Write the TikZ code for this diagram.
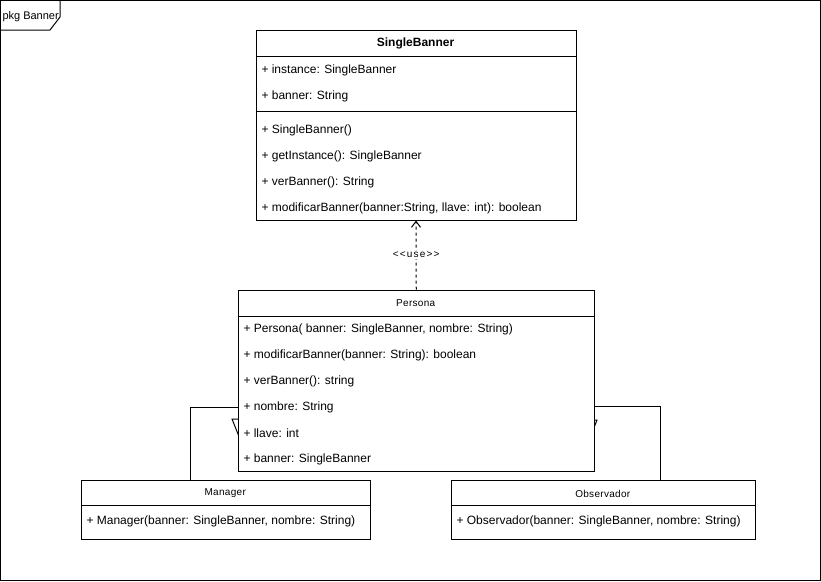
\documentclass[tikz,border=0pt]{standalone}
\usepackage{fontspec}
\setmainfont{Liberation Sans}
\newfontfamily\hdfont[LetterSpace=3]{Liberation Sans}
\newfontfamily\stfont[LetterSpace=12]{Liberation Sans}
\usetikzlibrary{arrows.meta,calc}
\begin{document}
\begin{tikzpicture}[x=1pt,y=-1pt,line width=1pt,
  classbox/.style={draw=black,fill=white,anchor=north west,inner sep=0pt},
  row/.style={anchor=west,inner sep=0pt,font=\fontsize{12}{14}\selectfont},
  hd/.style={inner sep=0pt,font=\hdfont\fontsize{10}{12}\selectfont},
  bhd/.style={inner sep=0pt,font=\bfseries\fontsize{12}{14}\selectfont},
  stereo/.style={fill=white,inner sep=1pt,font=\stfont\fontsize{10}{12}\selectfont},
  dep/.style={dashed,dash pattern=on 3pt off 3pt,-{Straight Barb[length=6pt,width=9pt]}}]
\useasboundingbox (0,0) rectangle (821,581);
% package frame
\draw (0.5,0.5) rectangle (820.5,580.5);
\draw (0.5,30) -- (50,30) -- (60,17) -- (60,0.5);
\node[anchor=west,inner sep=0pt,font=\fontsize{11}{13}\selectfont] (pkg) at (2,16.5) {pkg Banner};

% generalization edges (drawn first; Persona box covers their ends)
\coordinate (lt) at (232,419);
\coordinate (rt) at (597,420);
\draw (190,479.5) -- (190,407) -- (260,407);
\draw (lt) -- ++(16,0) -- ++(-8,20) -- cycle;
\draw (660,479.5) -- (660,406) -- (580,406);
\draw (rt) -- ++(-16,0) -- ++(8,20) -- cycle;

% SingleBanner
\node[classbox,minimum width=320pt,minimum height=190pt] (sb) at (255.5,29.5) {};
\draw ([yshift=-27pt]sb.north west) -- ([yshift=-27pt]sb.north east);
\draw ([yshift=-82pt]sb.north west) -- ([yshift=-82pt]sb.north east);
\node[bhd] (sbt) at (415.5,43.5) {SingleBanner};
\node[row] (sb1) at (261,70) {+ instance: SingleBanner};
\node[row] (sb2) at (261,96) {+ banner: String};
\node[row] (sb3) at (261,130) {+ SingleBanner()};
\node[row] (sb4) at (261,156) {+ getInstance(): SingleBanner};
\node[row] (sb5) at (261,182) {+ verBanner(): String};
\node[row] (sb6) at (261,208) {+ modificarBanner(banner:String, llave: int): boolean};

% Persona
\node[classbox,minimum width=356.5pt,minimum height=181pt] (pe) at (237.5,289.5) {};
\draw ([yshift=-26.5pt]pe.north west) -- ([yshift=-26.5pt]pe.north east);
\node[hd] (pet) at (415.75,303.5) {Persona};
\node[row] (pe1) at (243,329) {+ Persona( banner: SingleBanner, nombre: String)};
\node[row] (pe2) at (243,355) {+ modificarBanner(banner: String): boolean};
\node[row] (pe3) at (243,381) {+ verBanner(): string};
\node[row] (pe4) at (243,407) {+ nombre: String};
\node[row] (pe5) at (243,433) {+ llave: int};
\node[row] (pe6) at (243,459) {+ banner: SingleBanner};

% dependency
\draw[dep] (pe.north) -- (sb.south) node[midway,stereo] (use) {<<use>>};

% Manager
\node[classbox,minimum width=289.5pt,minimum height=59.5pt] (mg) at (80.5,479.5) {};
\draw ([yshift=-25.5pt]mg.north west) -- ([yshift=-25.5pt]mg.north east);
\node[hd] (mgt) at (225.25,493.5) {Manager};
\node[row] (mg1) at (86,521) {+ Manager(banner: SingleBanner, nombre: String)};

% Observador
\node[classbox,minimum width=304.5pt,minimum height=59.5pt] (ob) at (450.5,479.5) {};
\draw ([yshift=-25.5pt]ob.north west) -- ([yshift=-25.5pt]ob.north east);
\node[hd] (obt) at (602.75,493.5) {Observador};
\node[row] (ob1) at (456,521) {+ Observador(banner: SingleBanner, nombre: String)};
\end{tikzpicture}
\end{document}
